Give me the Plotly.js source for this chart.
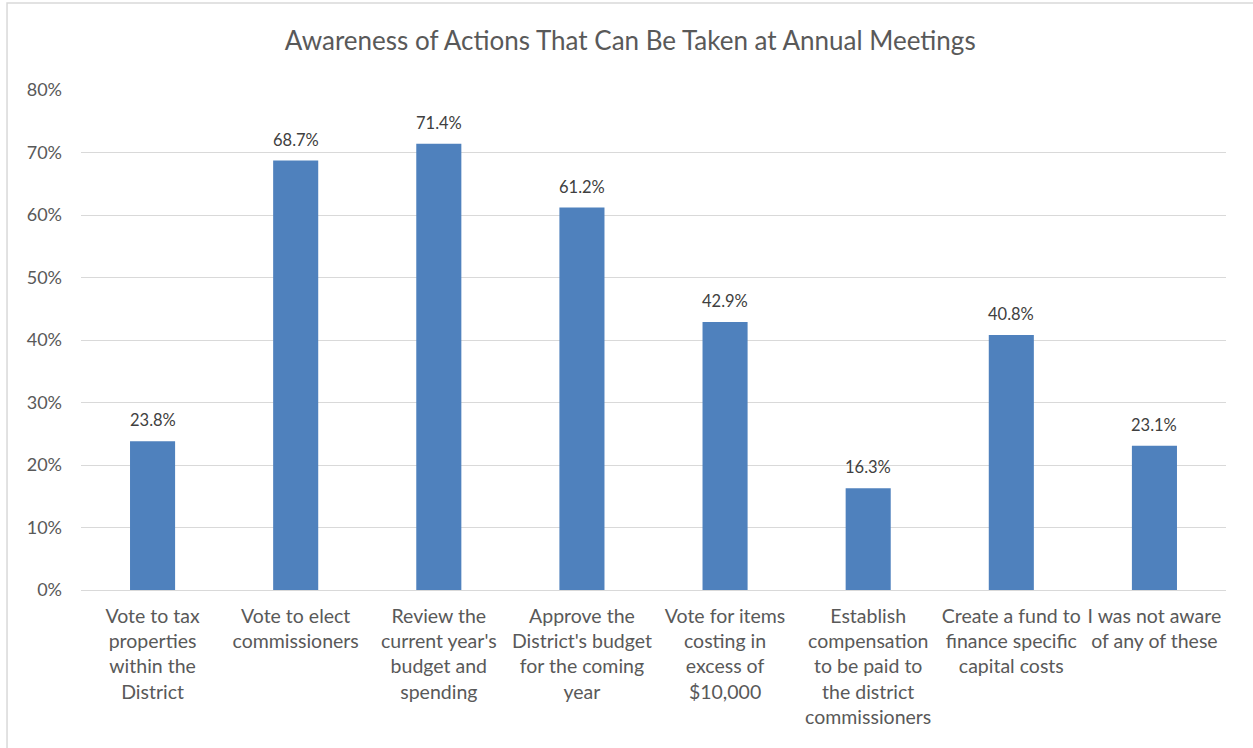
<!DOCTYPE html>
<html>
<head>
<meta charset="utf-8">
<script src="https://cdn.plot.ly/plotly-3.0.1.min.js"></script>
<style>html,body{margin:0;padding:0;background:#fff;}#chart{width:1253px;height:748px;}</style>
</head>
<body>
<div id="chart"></div>
<script>
const categories = [
  "Vote to tax<br>properties<br>within the<br>District",
  "Vote to elect<br>commissioners",
  "Review the<br>current year's<br>budget and<br>spending",
  "Approve the<br>District's budget<br>for the coming<br>year",
  "Vote for items<br>costing in<br>excess of<br>$10,000",
  "Establish<br>compensation<br>to be paid to<br>the district<br>commissioners",
  "Create a fund to<br>finance specific<br>capital costs",
  "I was not aware<br>of any of these"
];
const values = [0.238, 0.687, 0.714, 0.612, 0.429, 0.163, 0.408, 0.231];
const yTicks = [0, 0.1, 0.2, 0.3, 0.4, 0.5, 0.6, 0.7, 0.8];

const FONT = "Lato, 'Open Sans', sans-serif";
const trace = {
  type: 'bar',
  x: categories,
  y: values,
  marker: {color: '#4f81bd'},
  width: 0.315,
  hoverinfo: 'skip'
};
const labels = categories.map((c, i) => ({
  x: c, y: values[i], xref: 'x', yref: 'y',
  text: (values[i]*100).toFixed(1) + '%',
  showarrow: false, yanchor: 'middle', yshift: 21,
  font: {family: FONT, size: 16.5, color: '#404040'}
}));
const layout = {
  width: 1253, height: 748,
  margin: {l: 81, r: 27, t: 90, b: 158},
  paper_bgcolor: '#ffffff', plot_bgcolor: '#ffffff',
  showlegend: false,
  title: {text: 'Awareness of Actions That Can Be Taken at Annual Meetings',
          font: {family: FONT, size: 26, color: '#595959'},
          x: 0.503, xanchor: 'center', y: 0.945, yanchor: 'middle'},
  xaxis: {type: 'category', showgrid: false, zeroline: false, showline: false,
          ticks: '', ticklabelstandoff: 12,
          tickfont: {family: FONT, size: 19.5, color: '#595959'}, tickangle: 0},
  yaxis: {range: [0, 0.8], tickvals: yTicks, tickformat: '.0%', showgrid: true,
          gridcolor: '#d9d9d9', gridwidth: 1, zeroline: true, zerolinecolor: '#d9d9d9', zerolinewidth: 1,
          showline: false, ticks: '', ticklen: 0, ticklabelstandoff: 18,
          tickfont: {family: FONT, size: 18, color: '#595959'}},
  annotations: labels,
  shapes: [{type: 'rect', xref: 'paper', yref: 'paper',
            x0: -0.0646, x1: 1.06, y0: -0.34, y1: 1.174,
            line: {color: '#d9d9d9', width: 1.5}, fillcolor: 'rgba(0,0,0,0)'}]
};
Plotly.newPlot('chart', [trace], layout, {displayModeBar: false, staticPlot: true});
</script>
</body>
</html>
